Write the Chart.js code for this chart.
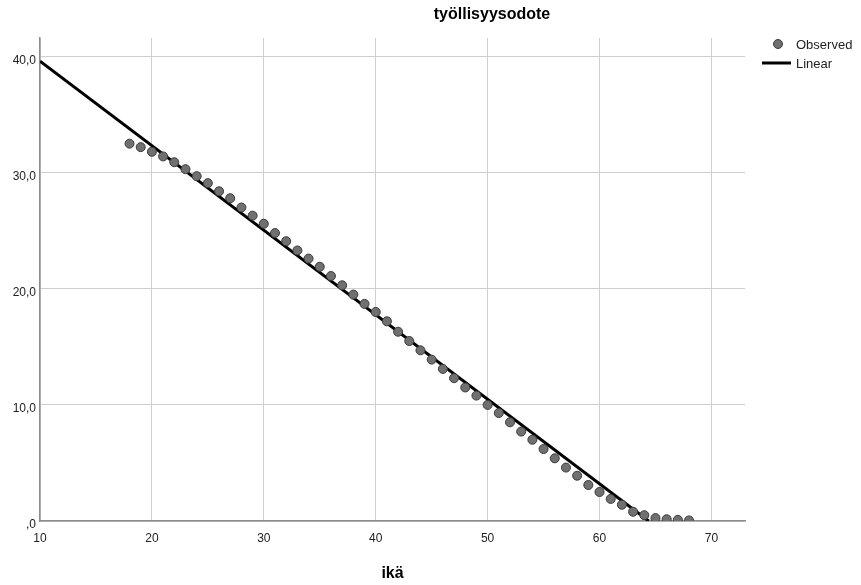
<!DOCTYPE html>
<html>
<head>
<meta charset="utf-8">
<script src="https://cdn.jsdelivr.net/npm/chart.js@4"></script>
<style>
  html, body { margin: 0; padding: 0; background: #fff; }
  #wrap { width: 861px; height: 585px; }
</style>
</head>
<body>
<div id="wrap"><canvas id="chart"></canvas></div>
<script>
/* ================================================
   DATA
================================================ */
const CHART_TITLE = 'työllisyysodote';
const X_TITLE     = 'ikä';

const ages = [18,19,20,21,22,23,24,25,26,27,28,29,30,31,32,33,34,35,36,37,38,39,40,41,42,
              43,44,45,46,47,48,49,50,51,52,53,54,55,56,57,58,59,60,61,62,63,64,65,66,67,68];
const observed = [32.5,32.2,31.8,31.4,30.9,30.3,29.7,29.1,28.4,27.8,27.0,26.3,25.6,24.8,24.1,23.3,22.6,21.9,21.1,20.3,19.5,18.7,18.0,17.2,16.3,
                  15.5,14.7,13.9,13.1,12.3,11.5,10.8,10.0,9.3,8.5,7.7,7.0,6.2,5.4,4.6,3.9,3.1,2.5,1.9,1.4,0.8,0.5,0.25,0.15,0.1,0.05];

// Linear fit line, endpoints
const linearX = [10, 64.4];
const linearY = [39.6, 0];

const xTicks = [10, 20, 30, 40, 50, 60, 70];
const yTicks = [0, 10, 20, 30, 40];

/* ================================================
   CUSTOM TEXT (title, axis title, legend)
================================================ */
const decorPlugin = {
  id: 'decor',
  afterDraw(chart) {
    const ctx = chart.ctx;
    const area = chart.chartArea;
    ctx.save();
    ctx.fillStyle = '#000';
    ctx.textBaseline = 'middle';

    // title
    ctx.font = 'bold 16px "Liberation Sans", Arial, sans-serif';
    ctx.textAlign = 'center';
    ctx.fillText(CHART_TITLE, 492, 15);

    // x axis title
    ctx.fillText(X_TITLE, (area.left + area.right) / 2, 574);

    // legend
    ctx.font = '13px "Liberation Sans", Arial, sans-serif';
    ctx.textAlign = 'left';
    ctx.beginPath();
    ctx.arc(778, 44, 4.5, 0, Math.PI * 2);
    ctx.fillStyle = '#707070';
    ctx.fill();
    ctx.strokeStyle = '#3a3a3a';
    ctx.lineWidth = 1;
    ctx.stroke();
    ctx.fillStyle = '#222';
    ctx.fillText('Observed', 796, 45);

    ctx.beginPath();
    ctx.moveTo(762, 63);
    ctx.lineTo(791, 63);
    ctx.strokeStyle = '#000';
    ctx.lineWidth = 3;
    ctx.stroke();
    ctx.fillText('Linear', 796, 64);
    ctx.restore();
  }
};

/* ================================================
   CHART
================================================ */
const tickFont = { family: '"Liberation Sans", Arial, sans-serif', size: 12 };

new Chart(document.getElementById('chart'), {
  type: 'scatter',
  data: {
    datasets: [
      {
        label: 'Linear',
        type: 'line',
        data: linearX.map((x, i) => ({ x, y: linearY[i] })),
        borderColor: '#000',
        borderWidth: 3,
        pointRadius: 0,
        fill: false,
        order: 2,
      },
      {
        label: 'Observed',
        data: ages.map((x, i) => ({ x, y: observed[i] })),
        backgroundColor: '#707070',
        borderColor: '#3a3a3a',
        borderWidth: 1,
        pointRadius: 4.5,
        order: 1,
      },
    ],
  },
  options: {
    responsive: true,
    maintainAspectRatio: false,
    animation: false,
    layout: { padding: { left: 0, right: 116, top: 38, bottom: 0 } },
    plugins: {
      legend: { display: false },
      title: { display: false },
      tooltip: { enabled: false },
    },
    scales: {
      x: {
        type: 'linear',
        min: 10,
        max: 73,
        afterBuildTicks: s => { s.ticks = xTicks.map(v => ({ value: v })); },
        afterFit: s => { s.height = 64; },
        grid: { color: '#cfcfcf', lineWidth: 1, drawTicks: false },
        border: { color: '#8c8c8c', width: 1.5 },
        ticks: { color: '#222', font: tickFont, padding: 10, maxRotation: 0, callback: v => String(v) },
      },
      y: {
        type: 'linear',
        min: 0,
        max: 41.6,
        afterBuildTicks: s => { s.ticks = yTicks.map(v => ({ value: v })); },
        afterFit: s => { s.width = 40; },
        grid: { color: '#cfcfcf', lineWidth: 1, drawTicks: false },
        border: { color: '#8c8c8c', width: 1.5 },
        ticks: {
          color: '#222', font: tickFont, padding: 4, labelOffset: 4,
          callback: v => v === 0 ? ',0' : v.toFixed(1).replace('.', ','),
        },
      },
    },
  },
  plugins: [decorPlugin],
});
</script>
</body>
</html>
